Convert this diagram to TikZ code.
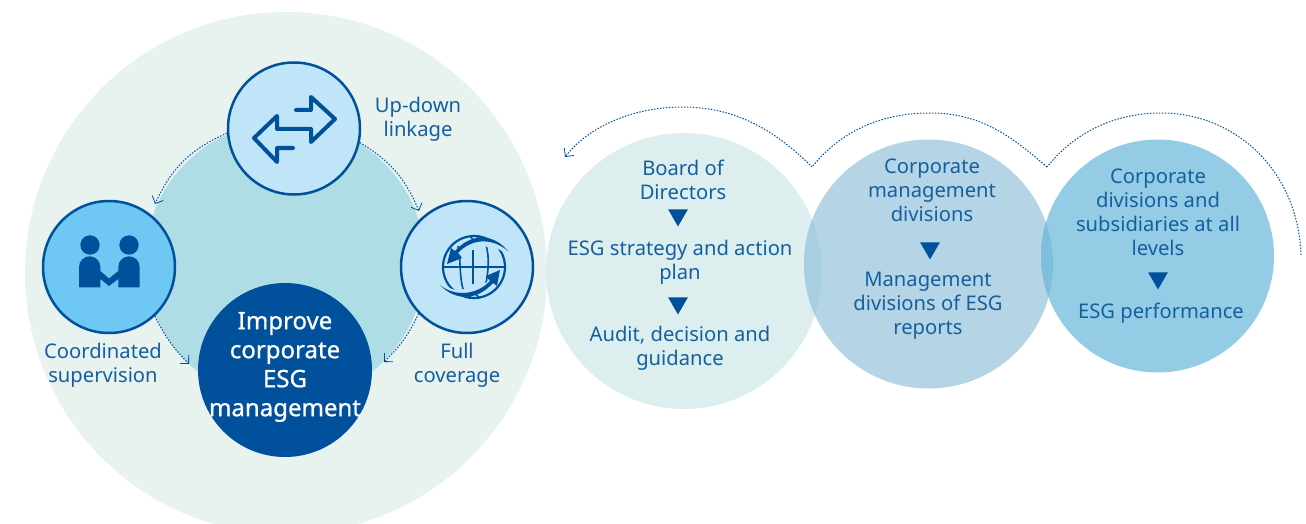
\documentclass[tikz,border=0pt]{standalone}
\usepackage{fontspec}
\setmainfont{Noto Sans}
\newfontfamily\heavyface[FakeBold=0.8]{Noto Sans}
\usetikzlibrary{arrows.meta,shapes.geometric}
\definecolor{inkblue}{HTML}{00509B}
\definecolor{textblue}{HTML}{14609F}
\definecolor{outerpale}{HTML}{E8F2EF}
\definecolor{innerteal}{HTML}{AEDDE5}
\definecolor{paleblue}{HTML}{C0E5F8}
\definecolor{skyblue}{HTML}{6FC8F3}
\definecolor{bubblea}{HTML}{DCEFEE}
\definecolor{bubbleb}{HTML}{B5D5E6}
\definecolor{bubblec}{HTML}{94CCE6}
\definecolor{overlapab}{HTML}{A9CEE1}
\definecolor{overlapbc}{HTML}{7FBFDE}
\begin{document}
\begin{tikzpicture}[x=1pt,y=-1pt]
    \tikzstyle{every node}+=[inner sep=0pt]
    \tikzstyle{disc}=[circle,draw=none]
    \tikzstyle{iconring}=[circle,draw=inkblue,line width=2.5pt,minimum size=132pt]
    \tikzstyle{label}=[text=textblue,align=center,font=\fontsize{20.2}{24}\selectfont]
    \tikzstyle{flow}=[draw=inkblue,line width=1pt,dash pattern=on 1.5pt off 1.5pt,-{Straight Barb[length=6pt,width=12pt,line width=0.8pt]}]
    \tikzstyle{flowplain}=[draw=inkblue,line width=1pt,dash pattern=on 1.5pt off 1.5pt]
    \tikzstyle{drop}=[regular polygon,regular polygon sides=3,shape border rotate=180,fill=inkblue,minimum size=23pt]
    \useasboundingbox (0,0) rectangle (1306,524);
    \clip (0,0) rectangle (1306,524);
    \node [disc,fill=outerpale,minimum size=522pt] (outer) at (286,273) {};
    \node [disc,fill=innerteal,minimum size=280pt] (inner) at (285,262) {};
    \node [iconring,fill=paleblue] (updown) at (294,128.5) {};
    \node [iconring,fill=skyblue] (supervise) at (109,267) {};
    \node [iconring,fill=paleblue] (coverage) at (467,267) {};
    \node [disc,fill=inkblue,minimum size=174pt] (improve) at (285,370) {};
    \node [text=white,align=center,font=\fontsize{24}{29}\heavyface] (improvetext) at (285,367) {Improve\\corporate\\ESG\\management};
    \node [label] (updowntext) at (418,119) {Up-down\\linkage};
    \node [label] (supervisetext) at (103,365) {Coordinated\\supervision};
    \node [label] (coveragetext) at (457,365) {Full\\coverage};
    \coordinate (leftin) at (155,204);
    \coordinate (rightin) at (419,211);
    \coordinate (bottomleft) at (189,364);
    \coordinate (bottomright) at (384,362);
    \draw [flow] (updown.184) to[bend right=21] (leftin);
    \draw [flow] (updown.-12) to[bend left=18] (rightin);
    \draw [flow] (supervise.-47) to[bend right=9] (bottomleft);
    \draw [flow] (coverage.-136) to[bend left=10] (bottomright);
    \draw [inkblue,line width=4pt,line cap=round,line join=round] (296,110) -- (311,110) -- (311,97) -- (335,119) -- (311,142) -- (311,129) -- (277,129) -- (277,116) -- (254,138) -- (277,162) -- (277,148) -- (293,148);
    \fill [inkblue] (90,245) circle (9.7);
    \fill [inkblue] (129,245) circle (9.7);
    \fill [inkblue] (79,287.3) -- (79,267) arc (180:360:10.7) -- (100.4,271) -- (109,278.5) -- (118.3,271) -- (118.3,267) arc (180:360:10.7) -- (139.7,287.3) -- (118.3,287.3) -- (118.3,279) -- (109,286) -- (100.4,279) -- (100.4,287.3) -- cycle;
    \draw [inkblue,line width=2.2pt] (474,267) circle (31);
    \draw [inkblue,line width=1.8pt] (443,267) -- (505,267);
    \draw [inkblue,line width=1.8pt] (473,250) -- (473,284);
    \draw [inkblue,line width=1.6pt] (458,246) .. controls (461,258) and (459,275) .. (463,289);
    \draw [inkblue,line width=1.6pt] (486,245) .. controls (490,258) and (488,275) .. (485,288);
    \draw [paleblue,line width=5pt] (508,252) .. controls (490,238) and (465,243) .. (447,262);
    \draw [paleblue,line width=5pt] (440,285) .. controls (460,300) and (480,295) .. (498,275);
    \fill [inkblue] (508,251) .. controls (490,236) and (470,240) .. (458,253) -- (462,258) -- (447,264) -- (451,248) -- (455,251) .. controls (470,234) and (492,232) .. cycle;
    \fill [inkblue] (440,285) .. controls (456,298) and (478,294) .. (490,281) -- (486,276) -- (500,270) -- (497,286) -- (493,283) .. controls (478,300) and (456,302) .. cycle;
    \draw [inkblue,line width=1.6pt] (470,236) -- (474,241) -- (480,236);
    \draw [inkblue,line width=1.6pt] (468,298) -- (474,293) -- (480,298);
    \node [disc,fill=bubblea,minimum size=276pt] (boarddisc) at (684,271) {};
    \node [disc,fill=bubbleb,minimum size=249pt] (corpdisc) at (928.5,264) {};
    \node [disc,fill=bubblec,minimum size=233pt] (subsdisc) at (1157.5,256) {};
    \begin{scope}
        \clip (684,271) circle (138);
        \fill [overlapab] (928.5,264) circle (124.5);
    \end{scope}
    \begin{scope}
        \clip (928.5,264) circle (124.5);
        \fill [overlapbc] (1157.5,256) circle (116.5);
    \end{scope}
    \node [label] (boardtext) at (683,180) {Board of\\Directors};
    \node [drop] (dropa) at (678,215) {};
    \node [label] (strategytext) at (680,262) {ESG strategy and action\\plan};
    \node [drop] (dropb) at (678,303) {};
    \node [label] (audittext) at (680,348) {Audit, decision and\\guidance};
    \node [label] (corptext) at (932,190) {Corporate\\management\\divisions};
    \node [drop] (dropc) at (930,248) {};
    \node [label] (reportstext) at (928,305.5) {Management\\divisions of ESG\\reports};
    \node [label] (substext) at (1158,212.5) {Corporate\\divisions and\\subsidiaries at all\\levels};
    \node [drop] (dropd) at (1158,278) {};
    \node [label] (perftext) at (1161,313.5) {ESG performance};
    \coordinate (tailc) at (1301,255);
    \coordinate (cuspb) at (1047,167);
    \coordinate (cuspa) at (812,167);
    \coordinate (heada) at (565,157);
    \draw [flowplain] (tailc) .. controls (1298,170) and (1235,113) .. (1161,113) .. controls (1115,113) and (1075,132) .. (cuspb);
    \draw [flowplain] (cuspb) .. controls (1010,135) and (980,113) .. (930,113) .. controls (880,113) and (840,132) .. (cuspa);
    \draw [flow] (cuspa) .. controls (775,130) and (735,107) .. (683,107) .. controls (635,107) and (590,125) .. (heada);
\end{tikzpicture}
\end{document}
